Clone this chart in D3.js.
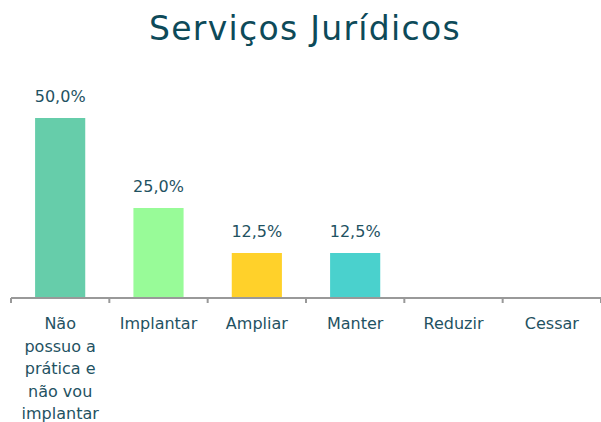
<!DOCTYPE html>
<html>
<head>
<meta charset="utf-8">
<script src="https://cdn.jsdelivr.net/npm/d3@7"></script>
<style>
  body { margin: 0; background: #fff; }
  svg { display: block; font-family: "Century Gothic", "DejaVu Sans", sans-serif; }
</style>
</head>
<body>
<div id="chart"></div>
<script>
  // chart data
  var title = "Serviços Jurídicos";
  var categories = ["Não possuo a prática e não vou implantar", "Implantar", "Ampliar", "Manter", "Reduzir", "Cessar"];
  var values = [50, 25, 12.5, 12.5, 0, 0];
  var colours = ["#66cdaa", "#98fb98", "#ffd12a", "#4ad1cd", "#cccccc", "#cccccc"];

  var width = 601, height = 422;
  var baseY = 298;
  var textColour = "#1f5262";

  var svg = d3.select("#chart").append("svg")
    .attr("width", width)
    .attr("height", height);

  var fmt = d3.formatLocale({decimal: ",", thousands: ".", grouping: [3], currency: ["", ""]}).format(".1f");

  var x = d3.scaleBand()
    .domain(categories)
    .range([11, 601])
    .paddingInner(0.49)
    .paddingOuter(0.245);

  var y = d3.scaleLinear()
    .domain([0, 50])
    .range([baseY, 118]);

  // title
  svg.append("text")
    .attr("x", 305)
    .attr("y", 40)
    .attr("text-anchor", "middle")
    .attr("fill", "#0d4a59")
    .style("font-size", "33px")
    .style("letter-spacing", "1.3px")
    .text(title);

  // bars
  var data = categories.map(function(c, i) { return {cat: c, value: values[i], colour: colours[i]}; });

  svg.selectAll(".bar")
    .data(data.filter(function(d) { return d.value > 0; }))
    .enter().append("rect")
    .attr("class", "bar")
    .attr("x", function(d) { return x(d.cat); })
    .attr("y", function(d) { return y(d.value); })
    .attr("width", x.bandwidth())
    .attr("height", function(d) { return baseY - y(d.value); })
    .attr("fill", function(d) { return d.colour; });

  // value labels
  svg.selectAll(".value-label")
    .data(data.filter(function(d) { return d.value > 0; }))
    .enter().append("text")
    .attr("class", "value-label")
    .attr("x", function(d) { return x(d.cat) + x.bandwidth() / 2; })
    .attr("y", function(d) { return y(d.value) - 16; })
    .attr("text-anchor", "middle")
    .attr("fill", textColour)
    .style("font-size", "16px")
    .text(function(d) { return fmt(d.value) + "%"; });

  // x axis with ticks on band edges
  var step = x.step();
  var edges = d3.range(categories.length + 1).map(function(i) { return 11 + i * step; });

  svg.append("line")
    .attr("x1", 11).attr("x2", width)
    .attr("y1", baseY).attr("y2", baseY)
    .attr("stroke", "#999")
    .attr("stroke-width", 2);

  svg.selectAll(".tick")
    .data(edges)
    .enter().append("line")
    .attr("class", "tick")
    .attr("x1", function(d) { return d; }).attr("x2", function(d) { return d; })
    .attr("y1", baseY).attr("y2", baseY + 5)
    .attr("stroke", "#999")
    .attr("stroke-width", 2);

  // category labels, wrapped to fit the band
  function wrap(text, maxWidth) {
    text.each(function() {
      var t = d3.select(this);
      var words = t.text().split(/\s+/);
      var cx = t.attr("x");
      t.text(null);
      var line = [];
      var tspan = t.append("tspan").attr("x", cx).attr("dy", 0);
      words.forEach(function(w) {
        line.push(w);
        tspan.text(line.join(" "));
        if (tspan.node().getComputedTextLength() > maxWidth && line.length > 1) {
          line.pop();
          tspan.text(line.join(" "));
          line = [w];
          tspan = t.append("tspan").attr("x", cx).attr("dy", "22.6px").text(w);
        }
      });
    });
  }

  svg.selectAll(".cat-label")
    .data(categories)
    .enter().append("text")
    .attr("class", "cat-label")
    .attr("x", function(d) { return x(d) + x.bandwidth() / 2; })
    .attr("y", 329)
    .attr("text-anchor", "middle")
    .attr("fill", textColour)
    .style("font-size", "16px")
    .text(function(d) { return d; })
    .call(wrap, 88);
</script>
</body>
</html>
